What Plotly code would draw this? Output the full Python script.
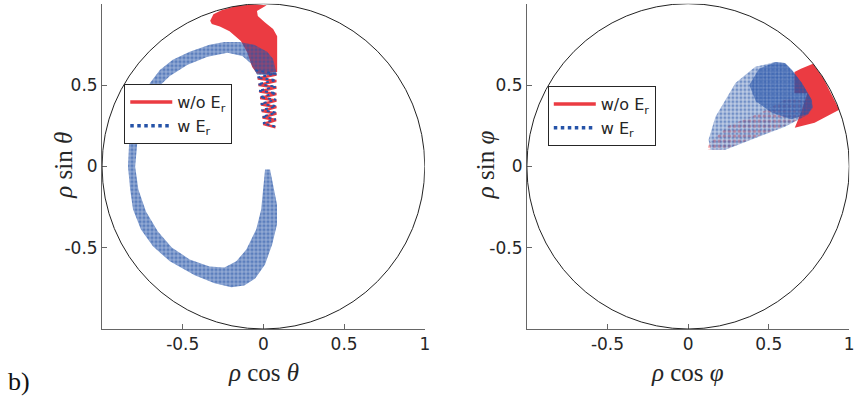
import plotly.graph_objects as go

RED = "#EB3B42"
BLUE = "#2553A8"

# ---------- left panel (theta) ----------
# red band, dense part (w/o E_r)
red_theta_band_x = [-0.33, -0.31, -0.26, -0.17, -0.07, 0.02, -0.04, -0.035, 0.01, 0.06, 0.085, 0.085, 0.085,
                    -0.04, -0.07, -0.10, -0.14, -0.21, -0.27, -0.32]
red_theta_band_y = [0.895, 0.935, 0.96, 0.985, 0.995, 0.99, 0.955, 0.925, 0.885, 0.845, 0.80, 0.70, 0.58,
                    0.57, 0.61, 0.70, 0.77, 0.83, 0.86, 0.875]
# red zigzag tail (w/o E_r)
red_theta_zig_x = [-0.04, 0.08, -0.035, 0.08, -0.03, 0.08, -0.025, 0.08, -0.02, 0.08, -0.015, 0.08,
                   -0.01, 0.08, -0.005, 0.078, 0.0, 0.075]
red_theta_zig_y = [0.58, 0.565, 0.54, 0.525, 0.50, 0.485, 0.46, 0.445, 0.42, 0.405, 0.38, 0.365,
                   0.34, 0.325, 0.30, 0.285, 0.26, 0.24]
# blue C-shaped band (w E_r): outer edge then inner edge back
blue_theta_band_x = [0.084, 0.06, 0.023, -0.057, -0.150, -0.242, -0.334, -0.457, -0.562, -0.642, -0.703,
                     -0.765, -0.808, -0.833, -0.839, -0.826, -0.808, -0.759, -0.685, -0.580, -0.426,
                     -0.303, -0.199, -0.119, -0.051, 0.010, 0.054, 0.084, 0.084, 0.060, 0.041,
                     0.010, -0.002, -0.014, -0.045, -0.106, -0.168, -0.242, -0.334, -0.457, -0.568,
                     -0.654, -0.728, -0.775, -0.795, -0.783, -0.758, -0.720, -0.662, -0.580, -0.470,
                     -0.346, -0.223, -0.131, -0.076, -0.039]
blue_theta_band_y = [0.56, 0.66, 0.704, 0.747, 0.765, 0.765, 0.747, 0.704, 0.655, 0.593, 0.513,
                     0.409, 0.287, 0.133, -0.002, -0.143, -0.266, -0.388, -0.492, -0.584, -0.670,
                     -0.719, -0.744, -0.732, -0.689, -0.603, -0.480, -0.358, -0.235, -0.112, -0.020,
                     -0.020, -0.143, -0.266, -0.388, -0.511, -0.584, -0.622, -0.615, -0.572, -0.499,
                     -0.401, -0.278, -0.143, -0.002, 0.133, 0.274, 0.385, 0.477, 0.556, 0.624,
                     0.673, 0.698, 0.679, 0.630, 0.563]
blue_theta_zig_x = [-0.05, 0.075, -0.04, 0.078, -0.035, 0.078, -0.03, 0.078, -0.022, 0.078, -0.017, 0.078,
                    -0.012, 0.078, -0.007, 0.076, -0.002, 0.073]
blue_theta_zig_y = [0.59, 0.57, 0.545, 0.53, 0.505, 0.49, 0.465, 0.45, 0.425, 0.41, 0.385, 0.37,
                    0.345, 0.33, 0.305, 0.29, 0.265, 0.245]

# ---------- right panel (phi) ----------
red_phi_band_x = [0.66, 0.66, 0.70, 0.775, 0.84, 0.90, 0.938, 0.785, 0.662, 0.70, 0.74]
red_phi_band_y = [0.45, 0.58, 0.60, 0.63, 0.54, 0.42, 0.348, 0.268, 0.237, 0.33, 0.45]
red_phi_dots_x = [0.13, 0.25, 0.45, 0.62, 0.74, 0.76, 0.60, 0.40, 0.22, 0.12]
red_phi_dots_y = [0.14, 0.25, 0.33, 0.42, 0.40, 0.32, 0.25, 0.17, 0.10, 0.10]
blue_phi_band_x = [0.540, 0.417, 0.294, 0.232, 0.170, 0.127, 0.139, 0.232, 0.398, 0.601, 0.743,
                   0.774, 0.767, 0.706, 0.644, 0.601]
blue_phi_band_y = [0.642, 0.612, 0.513, 0.409, 0.305, 0.164, 0.102, 0.102, 0.164, 0.244, 0.317,
                   0.360, 0.409, 0.513, 0.593, 0.636]
blue_phi_core_x = [0.54, 0.44, 0.38, 0.42, 0.52, 0.64, 0.74, 0.77, 0.767, 0.706, 0.644, 0.601]
blue_phi_core_y = [0.64, 0.60, 0.50, 0.40, 0.33, 0.29, 0.32, 0.36, 0.41, 0.513, 0.593, 0.636]

x_ticks = [-0.5, 0, 0.5, 1]
x_tick_text = ["-0.5", "0", "0.5", "1"]
y_ticks = [-0.5, 0, 0.5]
y_tick_text = ["-0.5", "0", "0.5"]

fig = go.Figure()


def poly(x, y, color, xa, ya, pattern=None, bg="rgba(0,0,0,0)", opacity=1.0):
    kw = dict(x=x + x[:1], y=y + y[:1], mode="lines", fill="toself", line=dict(width=0),
              hoverinfo="skip", showlegend=False, xaxis=xa, yaxis=ya, opacity=opacity)
    if pattern:
        kw["fillcolor"] = bg
        kw["fillpattern"] = dict(shape=".", fgcolor=color, bgcolor=bg,
                                 size=pattern[0], solidity=pattern[1])
    else:
        kw["fillcolor"] = color
    fig.add_trace(go.Scatter(**kw))


BLUE_BG = "rgba(37,83,168,0.50)"

# left panel
poly(red_theta_band_x, red_theta_band_y, RED, "x", "y")
fig.add_trace(go.Scatter(x=red_theta_zig_x, y=red_theta_zig_y, mode="lines",
                         line=dict(color=RED, width=2.5), showlegend=False, hoverinfo="skip"))
poly(blue_theta_band_x, blue_theta_band_y, BLUE, "x", "y", pattern=(4, 0.5), bg=BLUE_BG)
fig.add_trace(go.Scatter(x=blue_theta_zig_x, y=blue_theta_zig_y, mode="lines",
                         line=dict(color=BLUE, width=2, dash="dot"), showlegend=False, hoverinfo="skip"))

# right panel
poly(red_phi_band_x, red_phi_band_y, RED, "x2", "y2")
poly(red_phi_dots_x, red_phi_dots_y, RED, "x2", "y2", pattern=(5, 0.4))
poly(blue_phi_band_x, blue_phi_band_y, BLUE, "x2", "y2", pattern=(4, 0.45), bg="rgba(37,83,168,0.30)")
poly(blue_phi_core_x, blue_phi_core_y, BLUE, "x2", "y2", pattern=(3, 0.55), bg="rgba(37,83,168,0.45)")

# legend entries
for leg, xa, ya in (("legend", "x", "y"), ("legend2", "x2", "y2")):
    fig.add_trace(go.Scatter(x=[None], y=[None], mode="lines", name="w/o E<sub>r</sub>",
                             line=dict(color=RED, width=3.5), xaxis=xa, yaxis=ya, legend=leg))
    fig.add_trace(go.Scatter(x=[None], y=[None], mode="lines", name="w E<sub>r</sub>",
                             line=dict(color=BLUE, width=3.5, dash="dot"), xaxis=xa, yaxis=ya, legend=leg))

axis_common = dict(range=[-1, 1], showgrid=False, zeroline=False, showline=True,
                   linecolor="#666666", linewidth=1, ticks="inside", ticklen=5,
                   tickcolor="#666666", tickfont=dict(family="DejaVu Sans", size=17, color="#262626"),
                   mirror=False)

legend_common = dict(xanchor="left", yanchor="top", bgcolor="white", bordercolor="#262626",
                     borderwidth=1, itemwidth=42, tracegroupgap=0,
                     font=dict(family="DejaVu Sans", size=16, color="#262626"))

fig.update_layout(
    width=857, height=400, margin=dict(l=0, r=0, t=0, b=0),
    paper_bgcolor="white", plot_bgcolor="white",
    xaxis=dict(domain=[0.1198, 0.4986], anchor="y", tickvals=x_ticks, ticktext=x_tick_text, **axis_common),
    yaxis=dict(domain=[0.1775, 0.9908], anchor="x", tickvals=y_ticks, ticktext=y_tick_text, **axis_common),
    xaxis2=dict(domain=[0.6184, 0.9968], anchor="y2", tickvals=x_ticks, ticktext=x_tick_text, **axis_common),
    yaxis2=dict(domain=[0.1775, 0.9908], anchor="x2", tickvals=y_ticks, ticktext=y_tick_text, **axis_common),
    legend=dict(x=125 / 857, y=(400 - 84) / 400, **legend_common),
    legend2=dict(x=551 / 857, y=(400 - 86) / 400, **legend_common),
    shapes=[
        dict(type="circle", xref="x", yref="y", x0=-1, y0=-1, x1=1, y1=1,
             line=dict(color="#222222", width=1)),
        dict(type="circle", xref="x2", yref="y2", x0=-1, y0=-1, x1=1, y1=1,
             line=dict(color="#222222", width=1)),
    ],
)

lab_font = dict(family="Liberation Serif", size=25, color="#262626")
fig.add_annotation(text="<i>ρ</i> cos <i>θ</i>", x=265 / 857, y=(400 - 372) / 400, xref="paper", yref="paper",
                   showarrow=False, font=lab_font, xanchor="center", yanchor="middle")
fig.add_annotation(text="<i>ρ</i> cos <i>φ</i>", x=692 / 857, y=(400 - 372) / 400, xref="paper", yref="paper",
                   showarrow=False, font=lab_font, xanchor="center", yanchor="middle")
fig.add_annotation(text="<i>ρ</i> sin <i>θ</i>", x=63 / 857, y=(400 - 165) / 400, xref="paper", yref="paper",
                   showarrow=False, font=lab_font, textangle=-90, xanchor="center", yanchor="middle")
fig.add_annotation(text="<i>ρ</i> sin <i>φ</i>", x=488 / 857, y=(400 - 165) / 400, xref="paper", yref="paper",
                   showarrow=False, font=lab_font, textangle=-90, xanchor="center", yanchor="middle")
fig.add_annotation(text="b)", x=19 / 857, y=(400 - 381) / 400, xref="paper", yref="paper",
                   showarrow=False, font=dict(family="Liberation Serif", size=26, color="#111111"),
                   xanchor="center", yanchor="middle")

fig.write_html("out.html")
